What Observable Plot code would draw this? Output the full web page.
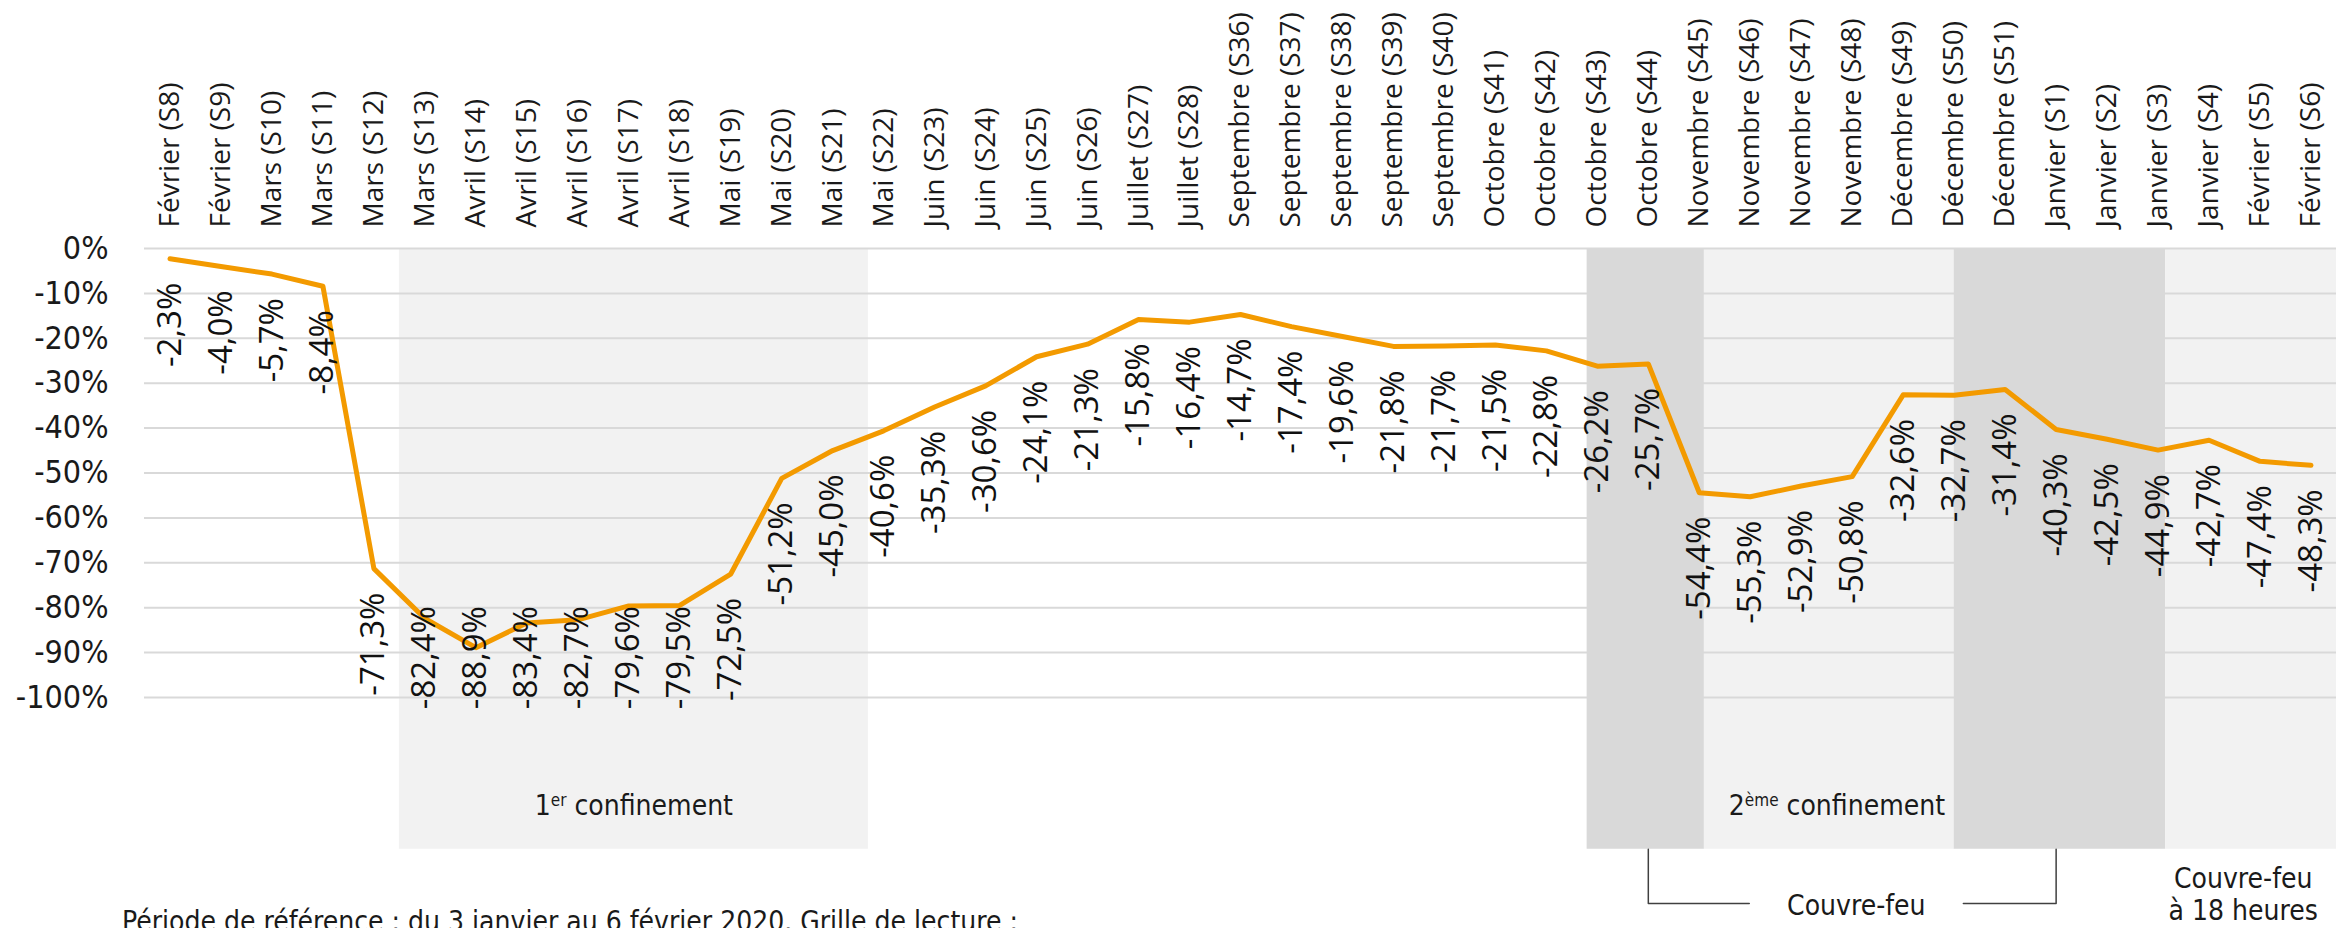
<!DOCTYPE html>
<html>
<head>
<meta charset="utf-8">
<script src="https://cdn.jsdelivr.net/npm/d3@7"></script>
<script src="https://cdn.jsdelivr.net/npm/@observablehq/plot@0.6"></script>
<style>
  html, body { margin: 0; padding: 0; background: #ffffff; overflow: hidden; }
  #chart svg { display: block; }
  #caption {
    font-family: "DejaVu Sans Condensed", "Liberation Sans Narrow", sans-serif;
    font-stretch: condensed;
    font-size: 28px;
    line-height: 1.2;
    color: #1a1a1a;
    padding-left: 122px;
    white-space: nowrap;
  }
</style>
</head>
<body>
<div id="chart"></div>
<div id="caption">Période de référence : du 3 janvier au 6 février 2020. Grille de lecture :</div>
<script>
// ---- Data ----
const weeks = [
  "Février (S8)", "Février (S9)", "Mars (S10)", "Mars (S11)", "Mars (S12)", "Mars (S13)",
  "Avril (S14)", "Avril (S15)", "Avril (S16)", "Avril (S17)", "Avril (S18)",
  "Mai (S19)", "Mai (S20)", "Mai (S21)", "Mai (S22)",
  "Juin (S23)", "Juin (S24)", "Juin (S25)", "Juin (S26)",
  "Juillet (S27)", "Juillet (S28)",
  "Septembre (S36)", "Septembre (S37)", "Septembre (S38)", "Septembre (S39)", "Septembre (S40)",
  "Octobre (S41)", "Octobre (S42)", "Octobre (S43)", "Octobre (S44)",
  "Novembre (S45)", "Novembre (S46)", "Novembre (S47)", "Novembre (S48)",
  "Décembre (S49)", "Décembre (S50)", "Décembre (S51)",
  "Janvier (S1)", "Janvier (S2)", "Janvier (S3)", "Janvier (S4)",
  "Février (S5)", "Février (S6)"
];
const values = [
  -2.3, -4.0, -5.7, -8.4, -71.3, -82.4,
  -88.9, -83.4, -82.7, -79.6, -79.5,
  -72.5, -51.2, -45.0, -40.6,
  -35.3, -30.6, -24.1, -21.3,
  -15.8, -16.4,
  -14.7, -17.4, -19.6, -21.8, -21.7,
  -21.5, -22.8, -26.2, -25.7,
  -54.4, -55.3, -52.9, -50.8,
  -32.6, -32.7, -31.4,
  -40.3, -42.5, -44.9, -42.7,
  -47.4, -48.3
];
const yTicks = [0, -10, -20, -30, -40, -50, -60, -70, -80, -90, -100];
// shaded periods, bounds expressed in week-index units
const periodStart = [4.5, 27.8, 30.1, 35.0, 39.15];
const periodEnd   = [13.7, 30.1, 35.0, 39.15, 42.5];
const periodKind  = ["confinement", "couvre-feu", "confinement", "couvre-feu", "couvre-feu 18h"];
// period labels
const periodLabels = ["1er confinement", "2ème confinement"];
const periodLabelX = [9.1, 32.7];
const curfewLabel = "Couvre-feu";
const curfewFrom = "Octobre (S44)";
const curfewTo = "Janvier (S1)";
const curfew18Label = "Couvre-feu\nà 18 heures";
const curfew18X = 40.67;
const caption = "Période de référence : du 3 janvier au 6 février 2020. Grille de lecture :";

// ---- Build ----
const data = weeks.map((w, i) => ({i, week: w, v: values[i]}));
const periods = periodStart.map((s, k) => ({start: s, end: periodEnd[k], kind: periodKind[k]}));
const fmt = v => v.toFixed(1).replace(".", ",") + "%";

const W = 2349, H = 905;
const BAND_BOTTOM = -133.8;
const LABEL_Y = -124.2;
const BRACKET_Y = -145.9;
const CURFEW_TEXT_Y = -146.4;
const condensed = "'DejaVu Sans Condensed', 'Liberation Sans Narrow', sans-serif";
const openSans = "'Open Sans', 'Noto Sans', sans-serif";

const iFrom = weeks.indexOf(curfewFrom);
const iTo = weeks.indexOf(curfewTo);
const curfewMid = (iFrom + iTo) / 2 + 0.08;
const gapHalf = 2.1;
const bracketLeft = [
  {x: iFrom, y: BAND_BOTTOM}, {x: iFrom, y: BRACKET_Y}, {x: curfewMid - gapHalf, y: BRACKET_Y}
];
const bracketRight = [
  {x: curfewMid + gapHalf, y: BRACKET_Y}, {x: iTo, y: BRACKET_Y}, {x: iTo, y: BAND_BOTTOM}
];

const shade = k => k === "couvre-feu" ? "#d9d9d9" : "#f2f2f2";

const chart = Plot.plot({
  width: W,
  height: H,
  marginLeft: 144,
  marginRight: 13,
  marginTop: 248,
  marginBottom: H - 697,
  x: {type: "linear", domain: [-0.5, weeks.length - 0.5], axis: null},
  y: {type: "linear", domain: [-100, 0], axis: null},
  style: {background: "#ffffff", overflow: "visible"},
  marks: [
    Plot.rect(periods, {x1: "start", x2: "end", y1: 0, y2: BAND_BOTTOM, fill: d => shade(d.kind)}),
    Plot.ruleY(yTicks, {x1: -0.5, x2: weeks.length - 0.5, y: d => d, stroke: "#d9d9d9", strokeWidth: 2}),
    Plot.line(data, {x: "i", y: "v", stroke: "#f39a00", strokeWidth: 5, strokeLinejoin: "round"}),
    // y tick labels
    Plot.text(yTicks, {x: -0.5, y: d => d, dx: -36, text: d => `${d}%`, textAnchor: "end",
      fontSize: 32, fontFamily: condensed, fill: "#1a1a1a"}),
    // category labels (top)
    Plot.text(data, {x: "i", y: 0, dy: -21, text: "week", rotate: -90, textAnchor: "start",
      fontSize: 28, fontFamily: openSans, fill: "#1a1a1a"}),
    // data labels
    Plot.text(data, {x: "i", y: "v", text: d => fmt(d.v), rotate: -90, textAnchor: "end",
      fontSize: 33, fontFamily: openSans, fill: "#111111", ariaDescription: "datalabels"}),
    // period labels
    Plot.text(periodLabels, {x: (d, k) => periodLabelX[k], y: LABEL_Y, text: d => d,
      fontSize: 28, fontFamily: condensed, fill: "#1a1a1a", ariaDescription: "periodlabels"}),
    // curfew bracket
    Plot.line(bracketLeft, {x: "x", y: "y", stroke: "#404040", strokeWidth: 1.5}),
    Plot.line(bracketRight, {x: "x", y: "y", stroke: "#404040", strokeWidth: 1.5}),
    Plot.text([curfewLabel], {x: curfewMid, y: CURFEW_TEXT_Y, text: d => d,
      fontSize: 28, fontFamily: condensed, fill: "#1a1a1a"}),
    Plot.text([curfew18Label], {x: curfew18X, y: -143.8, text: d => d, lineHeight: 1.14,
      fontSize: 28, fontFamily: condensed, fill: "#1a1a1a"})
  ]
});

document.getElementById("chart").append(chart);

// keep data labels inside the plotting area (as the original does)
const ys = chart.scale("y");
const limit = ys.apply(-102.6);
const GAP = 24;
chart.querySelectorAll('g[aria-description="datalabels"] text').forEach(t => {
  const m = t.getAttribute("transform").match(/translate\(([^,]+),([^)]+)\)/);
  if (!m) return;
  const X = +m[1], Y = +m[2];
  const len = t.getComputedTextLength();
  const top = Math.min(Y + GAP, limit - len);
  t.setAttribute("transform", `translate(${X},${top}) rotate(-90)`);
});

// superscripts in period labels
const NS = "http://www.w3.org/2000/svg";
chart.querySelectorAll('g[aria-description="periodlabels"] text').forEach(t => {
  const s = t.textContent;
  const m = s.match(/^(\d)(er|ème)(.*)$/);
  if (!m) return;
  t.textContent = "";
  const a = document.createElementNS(NS, "tspan"); a.textContent = m[1];
  const b = document.createElementNS(NS, "tspan"); b.textContent = m[2];
  b.setAttribute("font-size", "17"); b.setAttribute("dy", "-9");
  const c = document.createElementNS(NS, "tspan"); c.textContent = m[3];
  c.setAttribute("dy", "9");
  t.append(a, b, c);
});
</script>
</body>
</html>
